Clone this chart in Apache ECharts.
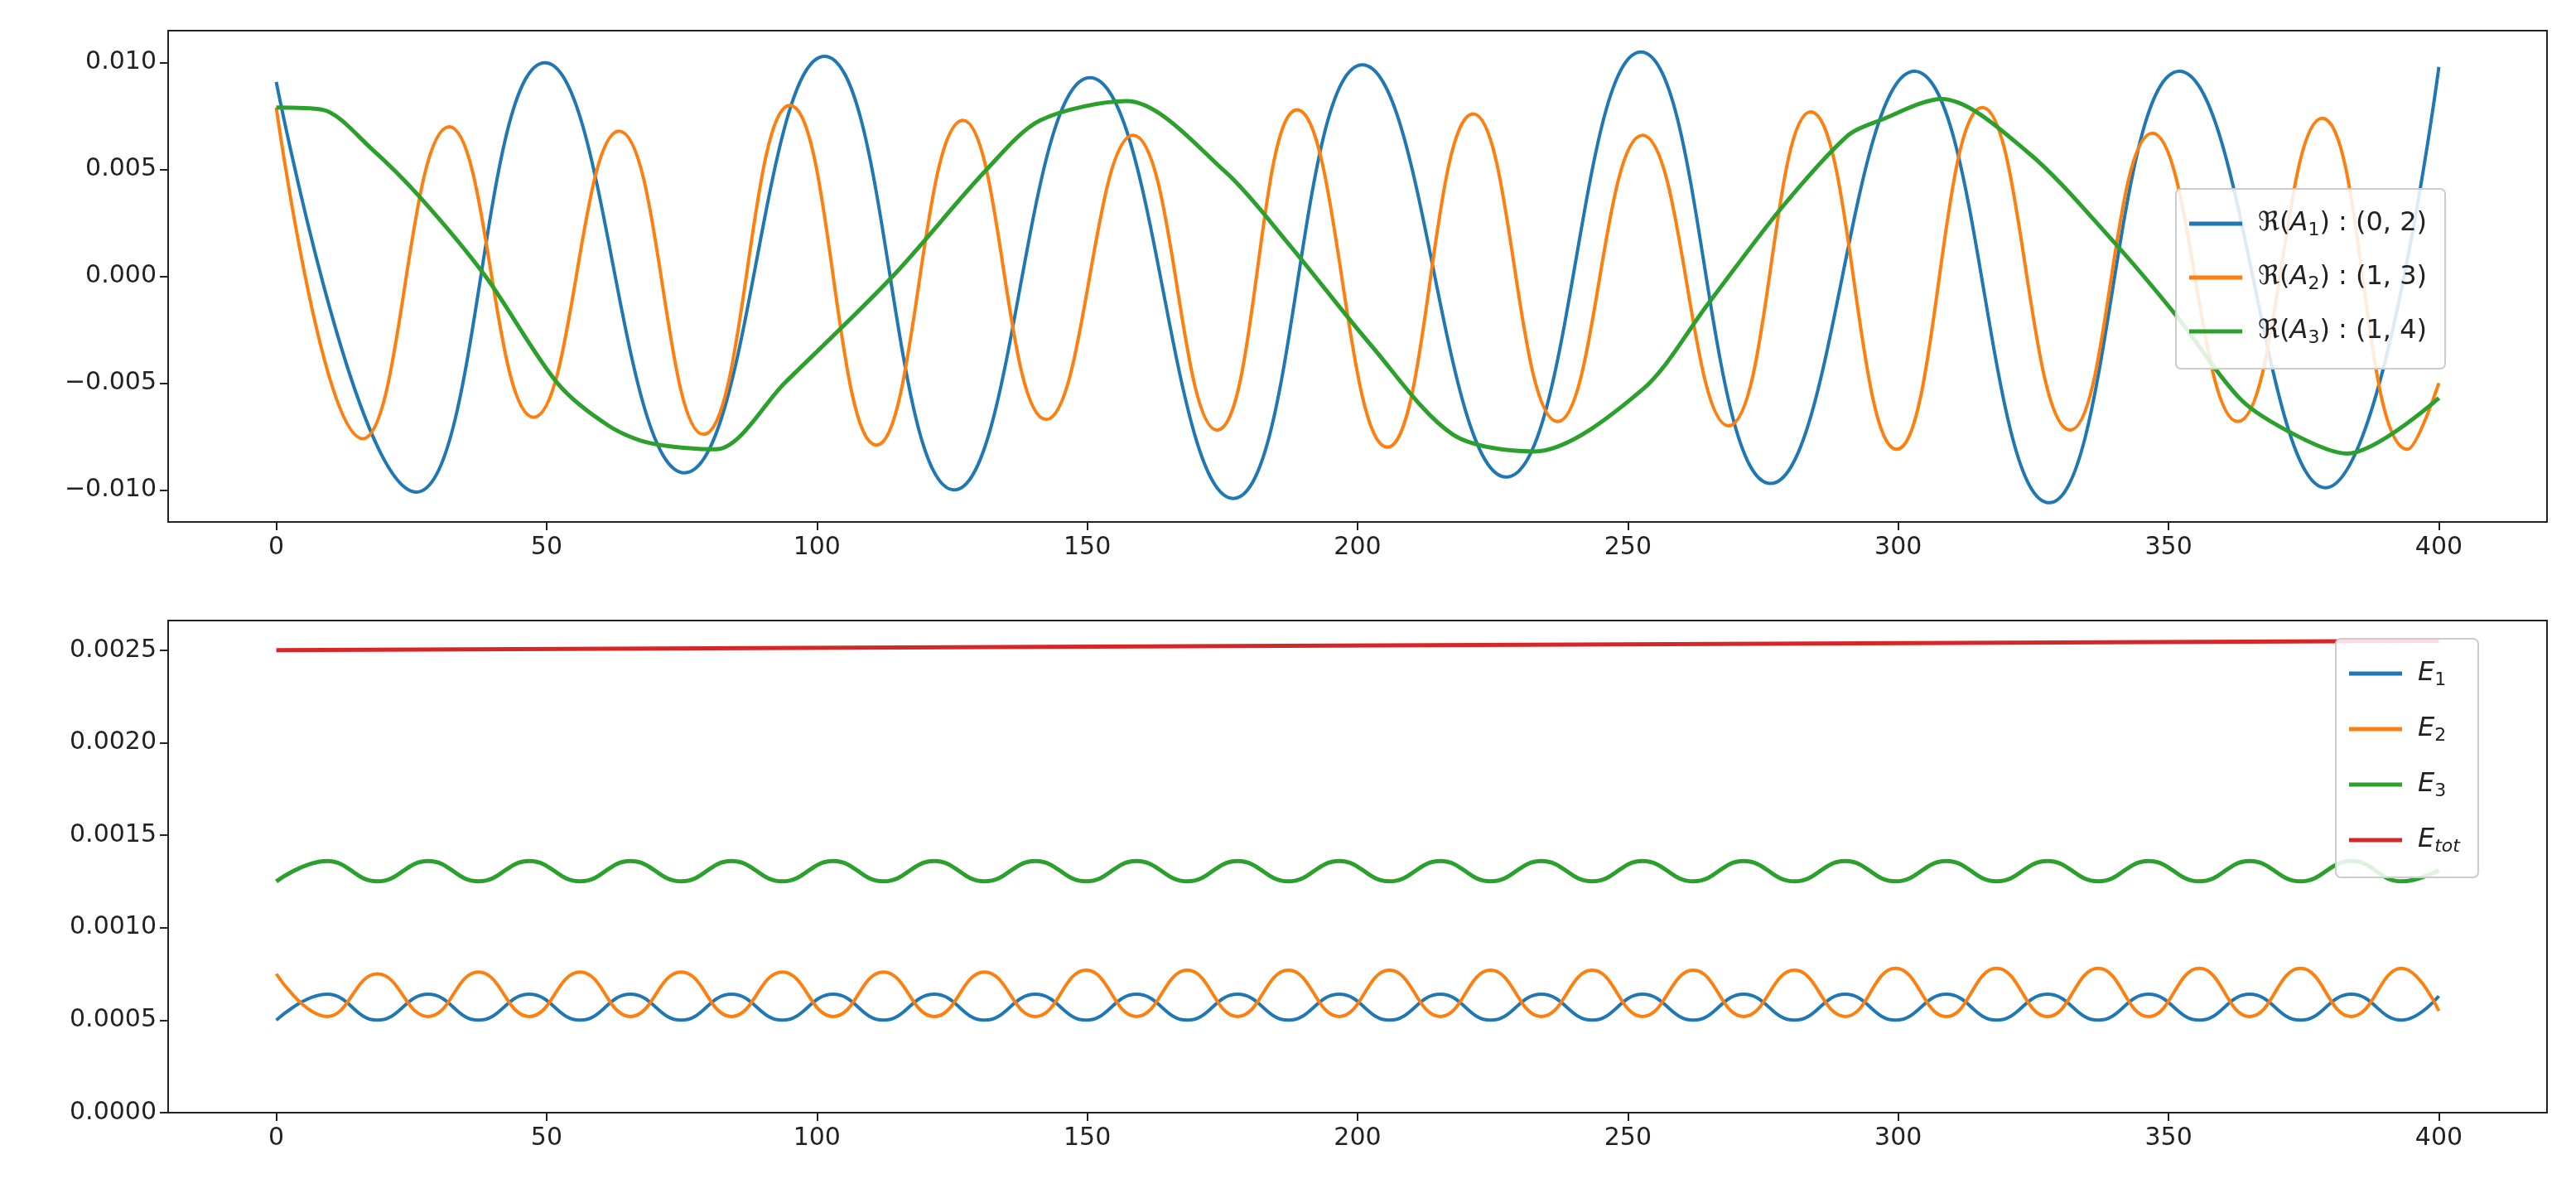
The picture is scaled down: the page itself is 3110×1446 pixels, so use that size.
<!DOCTYPE html>
<html>
<head>
<meta charset="utf-8">
<script src="https://cdn.jsdelivr.net/npm/echarts@6/dist/echarts.min.js"></script>
<style>
html, body { margin: 0; padding: 0; background: #fff; }
#chart { width: 3110px; height: 1446px; }
</style>
</head>
<body>
<div id="chart"></div>
<script>
// top panel: Re(A_k), extrema
var a1X = [0, 25.9, 49.7, 75.5, 101.4, 125.4, 150.5, 177, 200.9, 227.5, 252.4, 276.4, 303, 327.9, 352, 379, 400];
var a1Y = [0.0091, -0.0101, 0.0100, -0.0092, 0.0103, -0.0100, 0.0093, -0.0104, 0.0099, -0.0094, 0.0105, -0.0097, 0.0096, -0.0106, 0.0096, -0.0099, 0.0098];
var a2X = [0, 16, 32, 47.6, 63.4, 79, 95, 111, 127, 142.4, 158.5, 174, 188.8, 205.5, 221.4, 237, 252.7, 268.6, 283.8, 299.7, 315.6, 331.8, 347, 362.8, 378.4, 394.2, 400];
var a2Y = [0.0079, -0.0076, 0.0070, -0.0066, 0.0068, -0.0074, 0.0080, -0.0079, 0.0073, -0.0067, 0.0066, -0.0072, 0.0078, -0.0080, 0.0076, -0.0068, 0.0066, -0.0070, 0.0077, -0.0081, 0.0079, -0.0072, 0.0067, -0.0068, 0.0074, -0.0081, -0.0050];
var a3X = [0, 8.5, 17.5, 26.6, 38.7, 52, 61.5, 69, 81.3, 94, 114, 131.4, 141.3, 157.3, 175.5, 187.3, 202.4, 217.6, 232.6, 252.7, 264.8, 278.4, 290.7, 296.6, 308, 324, 339.2, 351.3, 363.5, 374, 383, 400];
var a3Y = [0.0079, 0.0078, 0.0060, 0.0037, 0, -0.0050, -0.0070, -0.0078, -0.0081, -0.0050, 0, 0.0050, 0.0073, 0.0082, 0.0049, 0.0015, -0.0032, -0.0074, -0.0082, -0.0053, -0.0013, 0.0032, 0.0066, 0.0073, 0.0083, 0.0058, 0.0018, -0.0018, -0.0058, -0.0075, -0.0083, -0.0057];

// bottom panel: energies, extrema
var eX = [0, 9.4, 18.7, 28.1, 37.4, 46.8, 56.2, 65.5, 74.9, 84.2, 93.6, 103, 112.3, 121.7, 131, 140.4, 149.8, 159.1, 168.5, 177.8, 187.2, 196.6, 205.9, 215.3, 224.6, 234, 243.4, 252.7, 262.1, 271.4, 280.8, 290.2, 299.5, 308.9, 318.2, 327.6, 337, 346.3, 355.7, 365, 374.4, 383.8, 393.1, 400];
var e1Y = [0.00050, 0.00064, 0.00050, 0.00064, 0.00050, 0.00064, 0.00050, 0.00064, 0.00050, 0.00064, 0.00050, 0.00064, 0.00050, 0.00064, 0.00050, 0.00064, 0.00050, 0.00064, 0.00050, 0.00064, 0.00050, 0.00064, 0.00050, 0.00064, 0.00050, 0.00064, 0.00050, 0.00064, 0.00050, 0.00064, 0.00050, 0.00064, 0.00050, 0.00064, 0.00050, 0.00064, 0.00050, 0.00064, 0.00050, 0.00064, 0.00050, 0.00064, 0.00050, 0.00063];
var e2Y = [0.00075, 0.00052, 0.00075, 0.00052, 0.00076, 0.00052, 0.00076, 0.00052, 0.00076, 0.00052, 0.00076, 0.00052, 0.00076, 0.00052, 0.00076, 0.00052, 0.00077, 0.00052, 0.00077, 0.00052, 0.00077, 0.00052, 0.00077, 0.00052, 0.00077, 0.00052, 0.00077, 0.00052, 0.00077, 0.00052, 0.00077, 0.00052, 0.00078, 0.00052, 0.00078, 0.00052, 0.00078, 0.00052, 0.00078, 0.00052, 0.00078, 0.00052, 0.00078, 0.00055];
var e3Y = [0.00125, 0.00136, 0.00125, 0.00136, 0.00125, 0.00136, 0.00125, 0.00136, 0.00125, 0.00136, 0.00125, 0.00136, 0.00125, 0.00136, 0.00125, 0.00136, 0.00125, 0.00136, 0.00125, 0.00136, 0.00125, 0.00136, 0.00125, 0.00136, 0.00125, 0.00136, 0.00125, 0.00136, 0.00125, 0.00136, 0.00125, 0.00136, 0.00125, 0.00136, 0.00125, 0.00136, 0.00125, 0.00136, 0.00125, 0.00136, 0.00125, 0.00136, 0.00125, 0.00131];
var etX = [0, 400];
var etY = [0.00250, 0.00255];

var xTicks = [0, 50, 100, 150, 200, 250, 300, 350, 400];
var yTicksTop = [-0.010, -0.005, 0.000, 0.005, 0.010];
var yTicksBot = [0.0000, 0.0005, 0.0010, 0.0015, 0.0020, 0.0025];

function pairs(xs, ys) {
    var out = [];
    for (var i = 0; i < xs.length; i++) out.push([xs[i], ys[i]]);
    return out;
}

var chart = echarts.init(document.getElementById('chart'));
var font = 'DejaVu Sans';
var tickColor = '#222';

function xAxisCfg(idx) {
    return {
        type: 'value', gridIndex: idx, min: -20, max: 420, position: 'bottom',
        axisLine: { show: false, onZero: false },
        splitLine: { show: false },
        axisTick: { show: true, inside: false, length: 10, lineStyle: { color: tickColor, width: 2 }, customValues: xTicks },
        axisLabel: { fontFamily: font, fontSize: 30, color: tickColor, margin: 16, customValues: xTicks }
    };
}
function yAxisCfg(idx, min, max, ticks, digits) {
    return {
        type: 'value', gridIndex: idx, min: min, max: max, position: 'left',
        axisLine: { show: false, onZero: false },
        splitLine: { show: false },
        axisTick: { show: true, inside: false, length: 10, lineStyle: { color: tickColor, width: 2 }, customValues: ticks },
        axisLabel: {
            fontFamily: font, fontSize: 30, color: tickColor, margin: 14, customValues: ticks,
            formatter: function (v) { return v.toFixed(digits).replace('-', '\u2212'); }
        }
    };
}

var legendNames = {
    A1: '{r|\u211C(}{i|A}{s|1}{r|) : (0, 2)}',
    A2: '{r|\u211C(}{i|A}{s|2}{r|) : (1, 3)}',
    A3: '{r|\u211C(}{i|A}{s|3}{r|) : (1, 4)}',
    E1: '{i|E}{s|1}',
    E2: '{i|E}{s|2}',
    E3: '{i|E}{s|3}',
    Etot: '{i|E}{si|tot}'
};
var rich = {
    r: { fontFamily: font, fontSize: 32, color: '#222' },
    i: { fontFamily: font, fontSize: 32, fontStyle: 'italic', color: '#222' },
    s: { fontFamily: font, fontSize: 22, color: '#222', padding: [16, 0, 0, 0] },
    si: { fontFamily: font, fontSize: 22, fontStyle: 'italic', color: '#222', padding: [16, 0, 0, 0] }
};
function legendCfg(data, left, top, gap) {
    return {
        data: data, orient: 'vertical', left: left, top: top,
        icon: 'rect', itemWidth: 64, itemHeight: 5, itemGap: gap,
        padding: [26, 22, 26, 16],
        backgroundColor: 'rgba(255,255,255,0.85)', borderColor: '#ccc', borderWidth: 2, borderRadius: 6,
        textStyle: { rich: rich, padding: [0, 0, 0, 14] },
        formatter: function (n) { return legendNames[n]; }
    };
}

function line(name, data, color, xi, w, sm) {
    return {
        name: name, type: 'line', xAxisIndex: xi, yAxisIndex: xi,
        data: data, smooth: sm || 0.45, showSymbol: false, animation: false,
        lineStyle: { color: color, width: w || 4 }, itemStyle: { color: color }
    };
}

option = {
    backgroundColor: '#fff',
    animation: false,
    grid: [
        { left: 203, right: 35, top: 37, height: 593, show: true, borderColor: '#222', borderWidth: 2 },
        { left: 203, right: 35, top: 749, height: 594, show: true, borderColor: '#222', borderWidth: 2 }
    ],
    xAxis: [xAxisCfg(0), xAxisCfg(1)],
    yAxis: [
        yAxisCfg(0, -0.0115, 0.0115, yTicksTop, 3),
        yAxisCfg(1, 0, 0.00266, yTicksBot, 4)
    ],
    legend: [
        legendCfg(['A1', 'A2', 'A3'], 2627, 228, 30),
        legendCfg(['E1', 'E2', 'E3', 'Etot'], 2820, 771, 32)
    ],
    series: [
        line('A1', pairs(a1X, a1Y), '#1f77b4', 0),
        line('A2', pairs(a2X, a2Y), '#ff7f0e', 0),
        line('A3', pairs(a3X, a3Y), '#2ca02c', 0, 5, 0.3),
        line('E1', pairs(eX, e1Y), '#1f77b4', 1),
        line('E2', pairs(eX, e2Y), '#ff7f0e', 1),
        line('E3', pairs(eX, e3Y), '#2ca02c', 1, 5),
        line('Etot', pairs(etX, etY), '#d62728', 1, 5)
    ]
};
chart.setOption(option);
</script>
</body>
</html>
